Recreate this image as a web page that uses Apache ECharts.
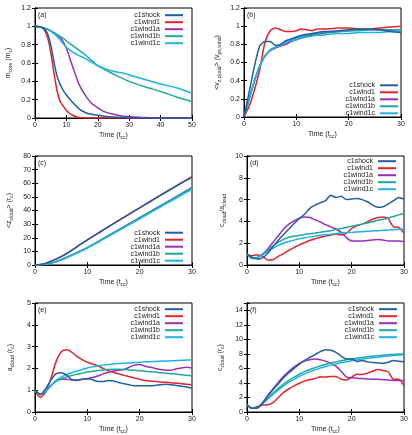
<!DOCTYPE html>
<html>
<head>
<meta charset="utf-8">
<script src="https://cdn.jsdelivr.net/npm/echarts@6/dist/echarts.min.js"></script>
<style>
html, body { margin: 0; background: #fff; }
#main { width: 412px; height: 435px; }
</style>
</head>
<body>
<div id="main"></div>
<script>
// runs, in legend order
const names = ['c1shock', 'c1wind1', 'c1wind1a', 'c1wind1b', 'c1wind1c'];
const colors = ['#1f5fa5', '#e0262b', '#9b2fb5', '#1fa89c', '#1eb2e6'];

// (a) core mass
const tA = [0, 2, 3, 4, 5, 6, 7, 8, 9, 10, 12, 14, 16, 18, 20, 22, 25, 28, 30, 35, 40, 45, 50];
const aShock = [1, 0.99, 0.97, 0.92, 0.8, 0.62, 0.46, 0.37, 0.3, 0.25, 0.17, 0.1, 0.06, 0.04, 0.03, 0.02, 0.01, 0.005, 0, 0, 0, 0, 0];
const aWind1 = [1, 0.99, 0.96, 0.88, 0.72, 0.5, 0.3, 0.18, 0.13, 0.08, 0.03, 0.005, 0, 0, 0, 0, 0, 0, 0, 0, 0, 0, 0];
const aWind1a = [1, 0.99, 0.98, 0.97, 0.95, 0.93, 0.91, 0.88, 0.83, 0.76, 0.56, 0.37, 0.25, 0.16, 0.11, 0.07, 0.04, 0.02, 0.015, 0.005, 0, 0, 0];
const aWind1b = [1, 0.99, 0.98, 0.97, 0.95, 0.93, 0.91, 0.89, 0.87, 0.84, 0.79, 0.74, 0.69, 0.63, 0.57, 0.53, 0.48, 0.43, 0.4, 0.34, 0.29, 0.23, 0.18];
const aWind1c = [1, 0.99, 0.98, 0.97, 0.95, 0.92, 0.89, 0.85, 0.81, 0.77, 0.72, 0.68, 0.65, 0.61, 0.57, 0.54, 0.51, 0.49, 0.47, 0.42, 0.37, 0.33, 0.27];

// (b) mean cloud velocity
const tB = [0, 1, 2, 3, 4, 5, 6, 7, 8, 9, 10, 11, 12, 13, 14, 15, 16, 18, 20, 22, 24, 26, 28, 30];
const bShock = [0, 0.28, 0.56, 0.78, 0.83, 0.83, 0.79, 0.8, 0.84, 0.86, 0.88, 0.9, 0.91, 0.92, 0.93, 0.94, 0.94, 0.95, 0.96, 0.97, 0.97, 0.96, 0.94, 0.93];
const bWind1 = [0, 0.12, 0.3, 0.52, 0.82, 0.95, 0.98, 0.96, 0.94, 0.94, 0.95, 0.97, 0.96, 0.95, 0.97, 0.97, 0.97, 0.98, 0.98, 0.97, 0.97, 0.98, 0.99, 1.0];
const bWind1a = [0, 0.2, 0.4, 0.56, 0.67, 0.73, 0.76, 0.78, 0.8, 0.83, 0.85, 0.87, 0.89, 0.9, 0.91, 0.92, 0.93, 0.94, 0.95, 0.96, 0.96, 0.96, 0.95, 0.94];
const bWind1b = [0, 0.2, 0.4, 0.56, 0.67, 0.74, 0.77, 0.8, 0.83, 0.85, 0.87, 0.89, 0.9, 0.91, 0.92, 0.93, 0.93, 0.94, 0.95, 0.95, 0.96, 0.96, 0.96, 0.96];
const bWind1c = [0, 0.2, 0.4, 0.56, 0.67, 0.73, 0.77, 0.79, 0.82, 0.84, 0.85, 0.87, 0.88, 0.89, 0.9, 0.9, 0.91, 0.92, 0.92, 0.93, 0.93, 0.93, 0.94, 0.94];

// (c) mean cloud position
const tC = [0, 1, 2, 3, 4, 5, 6, 8, 10, 12, 13, 15, 18, 20, 22, 25, 28, 30];
const cShock = [0, 0.3, 1.2, 2.6, 4.3, 6.2, 8.3, 13.3, 18.5, 23.2, 25.6, 30.3, 37.3, 42, 46.6, 53.4, 60.1, 64.3];
const cWind1 = [0, 0.3, 1.2, 2.6, 4.3, 6.2, 8.3, 13.3, 18.5, 23.2, 25.6, 30.3, 37.3, 42, 46.6, 53.6, 60.4, 64.8];
const cWind1a = [0, 0.1, 0.5, 1.3, 2.5, 3.9, 5.5, 9, 12.8, 17, 19.3, 23.7, 30.3, 34.7, 39.1, 45.7, 52.4, 57];
const cWind1b = [0, 0.1, 0.5, 1.3, 2.5, 3.9, 5.5, 9, 12.8, 17, 19.2, 23.6, 30.2, 34.6, 39, 45.6, 52.2, 56.6];
const cWind1c = [0, 0.1, 0.5, 1.3, 2.4, 3.8, 5.3, 8.8, 12.5, 16.6, 18.8, 23.1, 29.6, 33.9, 38.3, 44.8, 51.3, 55.6];

// (d), (e), (f) share one time grid
const tDEF = [0, 1, 2, 3, 4, 5, 6, 7, 8, 9, 10, 11, 12, 13, 14, 15, 16, 17, 18, 19, 20, 21, 22, 23, 24, 25, 26, 27, 28, 29, 30];

// (d) c/a
const dShock = [1, 0.7, 0.55, 0.65, 1.1, 1.7, 2.3, 2.8, 3.3, 3.8, 4.25, 4.65, 5.2, 5.5, 5.7, 5.9, 6.4, 6.2, 6.3, 6.0, 6.05, 6.1, 6.0, 5.8, 5.5, 5.3, 5.35, 5.6, 5.9, 6.2, 6.05];
const dWind1 = [1, 0.85, 0.92, 0.8, 0.45, 0.5, 0.8, 1.05, 1.35, 1.6, 1.85, 2.05, 2.25, 2.4, 2.55, 2.65, 2.75, 2.85, 2.75, 2.9, 3.35, 3.6, 3.75, 3.95, 4.2, 4.35, 4.4, 4.25, 3.5, 3.45, 2.9];
const dWind1a = [1, 0.6, 0.65, 1.0, 1.5, 2.1, 2.7, 3.3, 3.75, 4.05, 4.3, 4.4, 4.35, 4.15, 3.95, 3.7, 3.5, 3.3, 3.0, 2.5, 2.2, 2.2, 2.2, 2.25, 2.3, 2.35, 2.3, 2.2, 2.2, 2.2, 2.15];
const dWind1b = [1, 0.6, 0.7, 1.0, 1.35, 1.75, 2.1, 2.35, 2.55, 2.65, 2.72, 2.8, 2.87, 2.93, 3.0, 3.08, 3.15, 3.25, 3.35, 3.45, 3.55, 3.65, 3.75, 3.85, 3.97, 4.1, 4.2, 4.32, 4.45, 4.6, 4.72];
const dWind1c = [1, 0.6, 0.65, 0.95, 1.25, 1.55, 1.8, 2.0, 2.15, 2.28, 2.4, 2.5, 2.58, 2.65, 2.72, 2.78, 2.83, 2.88, 2.93, 2.97, 3.0, 3.03, 3.06, 3.09, 3.12, 3.15, 3.18, 3.21, 3.25, 3.28, 3.3];

// (e) a_cloud
const eShock = [1, 0.8, 1.05, 1.45, 1.75, 1.8, 1.7, 1.5, 1.45, 1.5, 1.52, 1.48, 1.4, 1.4, 1.45, 1.42, 1.35, 1.3, 1.25, 1.2, 1.2, 1.2, 1.2, 1.22, 1.25, 1.27, 1.25, 1.22, 1.18, 1.15, 1.1];
const eWind1 = [1, 0.67, 0.9, 1.5, 2.3, 2.75, 2.85, 2.75, 2.55, 2.4, 2.28, 2.2, 2.12, 2.0, 1.9, 1.82, 1.75, 1.68, 1.62, 1.56, 1.5, 1.45, 1.42, 1.4, 1.38, 1.36, 1.34, 1.32, 1.3, 1.27, 1.25];
const eWind1a = [1, 0.8, 0.95, 1.2, 1.42, 1.5, 1.5, 1.47, 1.47, 1.5, 1.53, 1.58, 1.65, 1.75, 1.82, 1.88, 1.92, 1.95, 2.05, 2.15, 2.18, 2.1, 2.05, 2.0, 1.95, 1.92, 1.92, 1.98, 2.02, 2.05, 2.02];
const eWind1b = [1, 0.8, 0.95, 1.2, 1.4, 1.52, 1.6, 1.67, 1.73, 1.78, 1.83, 1.87, 1.9, 1.93, 1.95, 1.96, 1.96, 1.95, 1.93, 1.91, 1.89, 1.87, 1.85, 1.83, 1.8, 1.78, 1.76, 1.74, 1.71, 1.69, 1.66];
const eWind1c = [1, 0.8, 0.95, 1.2, 1.45, 1.6, 1.72, 1.8, 1.88, 1.95, 2.02, 2.07, 2.11, 2.15, 2.18, 2.2, 2.22, 2.24, 2.25, 2.27, 2.28, 2.3, 2.31, 2.32, 2.33, 2.34, 2.35, 2.36, 2.37, 2.38, 2.39];

// (f) c_cloud
const fShock = [1, 0.5, 0.55, 1.2, 2.2, 3.1, 3.9, 4.7, 5.4, 6.0, 6.6, 7.1, 7.5, 7.9, 8.3, 8.55, 8.5, 8.2, 7.7, 7.3, 7.3, 6.95, 7.1, 6.9, 6.8, 6.75, 6.7, 6.85, 7.1, 7.0, 6.9];
const fWind1 = [1, 0.5, 0.75, 0.95, 1.0, 1.3, 2.0, 2.7, 3.2, 3.6, 3.95, 4.25, 4.45, 4.6, 4.85, 4.8, 4.9, 4.9, 4.5, 4.4, 4.8, 5.2, 5.15, 5.35, 5.6, 5.85, 5.7, 5.5, 4.5, 4.5, 3.6];
const fWind1a = [1, 0.5, 0.6, 1.3, 2.3, 3.2, 4.1, 4.9, 5.6, 6.2, 6.7, 7.0, 7.2, 7.3, 7.2, 7.0, 6.7, 6.3, 5.6, 4.8, 4.7, 4.65, 4.6, 4.55, 4.5, 4.5, 4.45, 4.4, 4.35, 4.35, 4.35];
const fWind1b = [1, 0.5, 0.6, 1.2, 1.9, 2.6, 3.25, 3.85, 4.35, 4.8, 5.2, 5.55, 5.85, 6.1, 6.35, 6.55, 6.75, 6.9, 7.05, 7.2, 7.3, 7.4, 7.5, 7.6, 7.68, 7.75, 7.82, 7.88, 7.93, 7.97, 8.0];
const fWind1c = [1, 0.5, 0.6, 1.15, 1.8, 2.45, 3.05, 3.6, 4.1, 4.5, 4.9, 5.25, 5.55, 5.8, 6.05, 6.25, 6.45, 6.62, 6.78, 6.92, 7.05, 7.17, 7.28, 7.38, 7.47, 7.55, 7.63, 7.7, 7.77, 7.83, 7.88];

const FONT = 'Liberation Sans';
const rich = {
  m: { fontSize: 7, fontFamily: FONT, color: '#222', lineHeight: 10, verticalAlign: 'middle' },
  s: { fontSize: 5, fontFamily: FONT, color: '#222', lineHeight: 5, verticalAlign: 'bottom' }
};
const xName = '{m|Time (t}{s|cc}{m|)}';

const panels = [
  { label: '(a)', box: [35, 8, 157, 110], xMax: 50, xInt: 10, yMax: 1.2, yInt: 0.2, yGap: 22,
    yName: '{m|m}{s|core}{m| (m}{s|c}{m|)}', legend: [229, 11.7], t: tA,
    ys: [aShock, aWind1, aWind1a, aWind1b, aWind1c] },
  { label: '(b)', box: [244, 8, 157, 109], xMax: 30, xInt: 10, yMax: 1.2, yInt: 0.2, yGap: 22,
    yName: '{m|<v}{s|z,cloud}{m|> (v}{s|ps,wind}{m|)}', legend: [14, 81.8], t: tB,
    ys: [bShock, bWind1, bWind1a, bWind1b, bWind1c] },
  { label: '(c)', box: [35, 156, 157, 109], xMax: 30, xInt: 10, yMax: 80, yInt: 10, yGap: 21,
    yName: '{m|<z}{s|cloud}{m|> (r}{s|c}{m|)}', legend: [229, 229.2], t: tC,
    ys: [cShock, cWind1, cWind1a, cWind1b, cWind1c] },
  { label: '(d)', box: [247, 156, 157, 109], xMax: 30, xInt: 10, yMax: 10, yInt: 2, yGap: 20,
    yName: '{m|c}{s|cloud}{m|/a}{s|cloud}', legend: [16, 157.7], t: tDEF,
    ys: [dShock, dWind1, dWind1a, dWind1b, dWind1c] },
  { label: '(e)', box: [35, 303, 157, 109], xMax: 30, xInt: 10, yMax: 5, yInt: 1, yGap: 20,
    yName: '{m|a}{s|cloud}{m| (r}{s|c}{m|)}', legend: [229, 305.7], t: tDEF,
    ys: [eShock, eWind1, eWind1a, eWind1b, eWind1c] },
  { label: '(f)', box: [247, 303, 157, 109], xMax: 30, xInt: 10, yMax: 15, yInt: 2, yGap: 22, yTop: 14,
    yName: '{m|c}{s|cloud}{m| (r}{s|c}{m|)}', legend: [15, 305.7], t: tDEF,
    ys: [fShock, fWind1, fWind1a, fWind1b, fWind1c] }
];

const grid = [], xAxis = [], yAxis = [], series = [], legend = [], graphic = [];
const tick = { show: true, inside: true, length: 3, lineStyle: { color: '#000', width: 1 } };
const line = { show: true, lineStyle: { color: '#000', width: 1 } };
const lab = { fontSize: 7, fontFamily: FONT, color: '#222', margin: 4 };

panels.forEach(function (p, i) {
  grid.push({ left: p.box[0], top: p.box[1], width: p.box[2], height: p.box[3],
    show: true, borderColor: '#000', borderWidth: 1, backgroundColor: '#fff' });
  // bottom / left axes carry the labels
  xAxis.push({ type: 'value', gridIndex: i, min: 0, max: p.xMax, interval: p.xInt, position: 'bottom',
    axisLine: line, axisTick: tick, splitLine: { show: false }, axisLabel: lab,
    name: xName, nameLocation: 'middle', nameGap: 12, nameTextStyle: { rich: rich } });
  const top = p.yTop;
  yAxis.push({ type: 'value', gridIndex: i, min: 0, max: p.yMax, interval: p.yInt, position: 'left',
    axisLine: line, axisTick: tick, splitLine: { show: false },
    axisLabel: Object.assign({}, lab, { formatter: function (v) { return top !== undefined && v > top ? '' : String(v); } }),
    name: p.yName, nameLocation: 'middle', nameGap: p.yGap, nameRotate: 90, nameTextStyle: { rich: rich } });
});
// mirrored ticks on top / right
panels.forEach(function (p, i) {
  xAxis.push({ type: 'value', gridIndex: i, min: 0, max: p.xMax, interval: p.xInt, position: 'top',
    axisLine: line, axisTick: tick, splitLine: { show: false }, axisLabel: { show: false } });
  yAxis.push({ type: 'value', gridIndex: i, min: 0, max: p.yMax, interval: p.yInt, position: 'right',
    axisLine: line, axisTick: tick, splitLine: { show: false }, axisLabel: { show: false } });
});

panels.forEach(function (p, i) {
  p.ys.forEach(function (vals, k) {
    series.push({
      name: names[k], type: 'line', xAxisIndex: i, yAxisIndex: i,
      data: p.t.map(function (t, j) { return [t, vals[j]]; }),
      showSymbol: false, symbol: 'none', smooth: 0.25,
      lineStyle: { width: 1.5, color: colors[k] }, itemStyle: { color: colors[k] },
      z: 2 + (k === 0 ? 1 : 0)
    });
  });
  legend.push({
    orient: 'vertical', right: p.legend[0], top: p.legend[1], align: 'right',
    padding: 0, itemGap: 0, itemWidth: 18, itemHeight: 2, icon: 'rect',
    selectedMode: false, data: names,
    textStyle: { fontSize: 7, fontFamily: FONT, color: '#222', lineHeight: 6.6 }
  });
  graphic.push({ type: 'text', left: p.box[0] + 3, top: p.box[1] + 4,
    style: { text: p.label, fontSize: 7, fontFamily: FONT, fill: '#222' } });
});

const chart = echarts.init(document.getElementById('main'), null, { renderer: 'canvas' });
chart.setOption({
  animation: false,
  backgroundColor: '#fff',
  grid: grid, xAxis: xAxis, yAxis: yAxis,
  legend: legend, series: series, graphic: graphic
});
</script>
</body>
</html>
